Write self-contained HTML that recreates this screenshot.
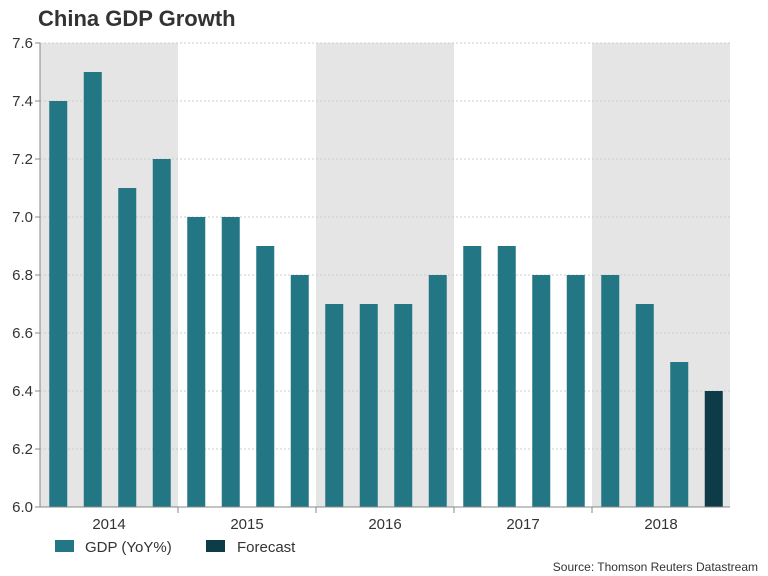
<!DOCTYPE html>
<html><head><meta charset="utf-8"><style>
body{margin:0;background:#fff;font-family:"Liberation Sans",Arial,sans-serif}
svg{display:block}
</style></head><body>
<svg id="chart" width="768" height="576">
<text x="38" y="26" font-size="22" font-weight="bold" fill="#333">China GDP Growth</text>
<g id="bands"></g><g id="grid"></g><g id="bars"></g><g id="axes"></g>
<g>
<rect x="55" y="540" width="19" height="12" fill="#237785"/>
<text x="85" y="552" font-size="15" fill="#333">GDP (YoY%)</text>
<rect x="206" y="540" width="19" height="12" fill="#0d3b47"/>
<text x="237" y="552" font-size="15" fill="#333">Forecast</text>
</g>
<text x="758" y="571" font-size="12" fill="#333" text-anchor="end">Source: Thomson Reuters Datastream</text>
</svg>
<script>
const years = ["2014","2015","2016","2017","2018"];
const gdpValues = [7.4,7.5,7.1,7.2,7.0,7.0,6.9,6.8,6.7,6.7,6.7,6.8,6.9,6.9,6.8,6.8,6.8,6.7,6.5,6.4];
const isForecast = [0,0,0,0,0,0,0,0,0,0,0,0,0,0,0,0,0,0,0,1];
const yTicks = [6.0,6.2,6.4,6.6,6.8,7.0,7.2,7.4,7.6];
const NS="http://www.w3.org/2000/svg";
const L=40,R=730,T=43,B=507,yMin=6.0,yMax=7.6;
const n=gdpValues.length, slot=(R-L)/n;
const y=v=>B-(v-yMin)/(yMax-yMin)*(B-T);
const x=i=>L+i*slot;
function mk(tag,attrs,parent){const e=document.createElementNS(NS,tag);for(const k in attrs)e.setAttribute(k,attrs[k]);document.getElementById(parent).appendChild(e);return e;}
const yw=(R-L)/years.length;
years.forEach((yr,i)=>{
  if(i%2===0){const r=mk('rect',{x:L+i*yw,y:T,width:yw,height:B-T,fill:'#e5e5e5'},'bands');
  
  }
  const t=mk('text',{x:L+(i+0.5)*yw,y:529,'font-size':15,fill:'#333','text-anchor':'middle'},'axes');t.textContent=yr;
  
  
  if(i>0){const tk=mk('line',{x1:L+i*yw,x2:L+i*yw,y1:B,y2:B+6,stroke:'#888'},'axes');
  
  }
});
yTicks.forEach(v=>{
  const g=mk('line',{x1:L,x2:R,y1:y(v),y2:y(v),stroke:'#ccc','stroke-dasharray':'2,2'},'grid');
  
  
  const tk=mk('line',{x1:L-5,x2:L,y1:y(v),y2:y(v),stroke:'#888'},'axes');
  
  
  const t=mk('text',{x:L-7,y:y(v)+5,'font-size':15,fill:'#333','text-anchor':'end'},'axes');t.textContent=v.toFixed(1);
  
  
});
gdpValues.forEach((v,i)=>{
  const bw=18;
  const b=mk('rect',{x:x(i)+slot/2-bw/2+1,y:y(v),width:bw,height:B-y(v),fill:isForecast[i]?'#0d3b47':'#237785'},'bars');
  
  
});
const ax=mk('line',{x1:L,x2:L,y1:T,y2:B,stroke:'#888'},'axes');


const bx=mk('line',{x1:L-5,x2:R,y1:B,y2:B,stroke:'#888'},'axes');


</script>
</body></html>
